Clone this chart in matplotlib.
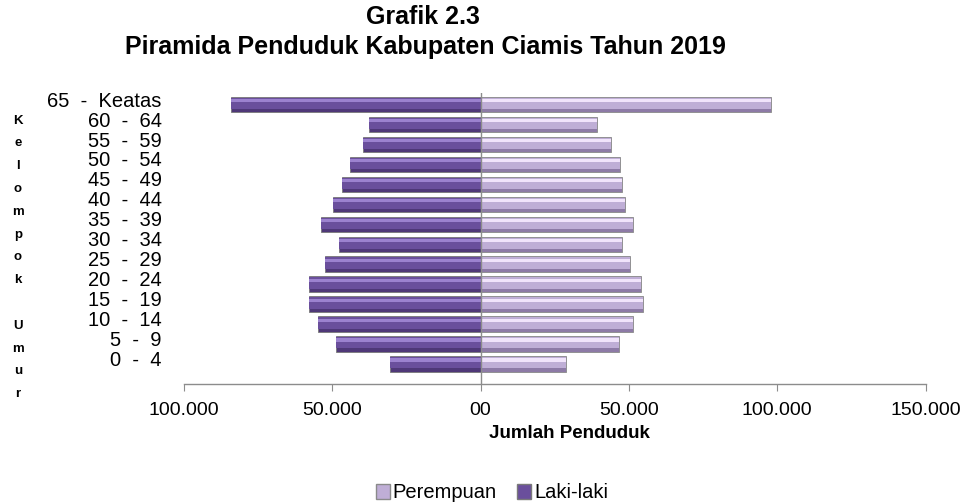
import matplotlib
matplotlib.use("Agg")
import matplotlib.pyplot as plt
from matplotlib.patches import Patch
from matplotlib.transforms import ScaledTranslation

plt.rcParams['font.family'] = ['Liberation Sans', 'DejaVu Sans']

# Data (bottom to top)
age_groups = ["0  -  4", "5  -  9", "10  -  14", "15  -  19", "20  -  24", "25  -  29",
              "30  -  34", "35  -  39", "40  -  44", "45  -  49", "50  -  54", "55  -  59",
              "60  -  64", "65  -  Keatas"]
laki_laki = [30600, 48700, 54800, 57900, 57800, 52600, 47600, 53800, 49900, 46600,
             44200, 39800, 37700, 84300]
perempuan = [28800, 46600, 51500, 54800, 54200, 50300, 47600, 51500, 48600, 47600,
             47100, 43800, 39400, 97800]
x_ticks = [-100000, -50000, 0, 50000, 100000, 150000]
x_tick_labels = ["100.000", "50.000", "00", "50.000", "100.000", "150.000"]

W, H = 979, 504
fig = plt.figure(figsize=(W / 100, H / 100), dpi=100)
ax = fig.add_axes([184 / W, 1 - 383.6 / H, (925.5 - 184) / W, (383.6 - 93) / H])

y = list(range(len(age_groups)))
neg_laki = [-v for v in laki_laki]
bh = 0.78

# Laki-laki (dark purple) with bevel-like shading
ax.barh(y, neg_laki, height=bh, color="#4f3878", edgecolor="#7a7a7a", linewidth=0.6, zorder=2)
ax.barh([v + 0.06 for v in y], neg_laki, height=bh - 0.22, color="#6a4f9c", linewidth=0, zorder=3)
ax.barh([v + 0.2 for v in y], neg_laki, height=0.16, color="#9c82cf", linewidth=0, zorder=4)

# Perempuan (light purple)
ax.barh(y, perempuan, height=bh, color="#8d7aa6", edgecolor="#8a8a8a", linewidth=0.6, zorder=2)
ax.barh([v + 0.06 for v in y], perempuan, height=bh - 0.22, color="#bfaed6", linewidth=0, zorder=3)
ax.barh([v + 0.2 for v in y], perempuan, height=0.16, color="#f1e4fb", linewidth=0, zorder=4)

ax.set_xlim(-100000, 150000)
ax.set_ylim(-0.98, 13.58)

ax.axvline(0, color="#8c8c8c", linewidth=1.0, zorder=5)

for s in ["top", "right", "left"]:
    ax.spines[s].set_visible(False)
ax.spines["bottom"].set_color("#8c8c8c")
ax.spines["bottom"].set_linewidth(1.0)

ax.set_xticks(x_ticks)
ax.set_xticklabels(x_tick_labels, fontsize=14)
ax.tick_params(axis="x", direction="out", length=5, color="#8c8c8c", pad=8)

ax.set_yticks(y)
ax.set_yticklabels(age_groups, fontsize=14.5, va="center")
ax.tick_params(axis="y", length=0, pad=16)
shift = ScaledTranslation(0, 2.5 / 72, fig.dpi_scale_trans)
for lbl in ax.get_yticklabels():
    lbl.set_transform(lbl.get_transform() + shift)

# Titles
fig.text(423 / W, 1 - 17 / H, "Grafik 2.3", ha="center", va="center",
         fontsize=18, fontweight="bold")
fig.text(425 / W, 1 - 47 / H, "Piramida Penduduk Kabupaten Ciamis Tahun 2019",
         ha="center", va="center", fontsize=18, fontweight="bold")

# Axis titles
fig.text(569 / W, 1 - 434 / H, "Jumlah Penduduk", ha="center", va="center",
         fontsize=13.5, fontweight="bold",
         family=["Liberation Sans Narrow", "Liberation Sans", "DejaVu Sans"])
fig.text(18 / W, 1 - 257.5 / H, "K\ne\nl\no\nm\np\no\nk\n\nU\nm\nu\nr",
         ha="center", va="center", fontsize=9.5, fontweight="bold", linespacing=2.2)

# Legend
handles = [Patch(facecolor="#bfaed6", edgecolor="#8a8a8a", label="Perempuan"),
           Patch(facecolor="#6a4f9c", edgecolor="#7a7a7a", label="Laki-laki")]
fig.legend(handles=handles, loc="center", bbox_to_anchor=(492 / W, 1 - 493 / H),
           ncol=2, frameon=False, fontsize=14.5, handlelength=0.7, handleheight=0.7,
           handletextpad=0.15, columnspacing=1.0, borderaxespad=0)

fig.savefig("out.png", dpi=100)
